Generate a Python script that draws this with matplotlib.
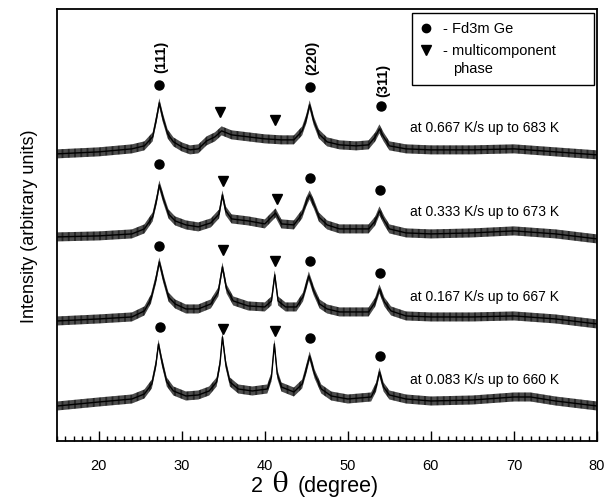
import numpy as np
import matplotlib
matplotlib.use("Agg")
import matplotlib.pyplot as plt
from matplotlib.patches import Rectangle

plt.rcParams['font.family'] = ['Liberation Sans', 'DejaVu Sans']
plt.rcParams['hatch.linewidth'] = 0.6

# traces (2theta in degree, intensity in arbitrary units)
x_683 = [15, 20, 24, 25.5, 26.5, 27.0, 27.3, 27.7, 28.3, 29.0, 30, 31, 32, 33, 34, 34.8, 36, 38, 40, 42,
         43.5, 44.5, 45.0, 45.4, 45.9, 46.5, 47.5, 49, 51, 52.5, 53.3, 53.8, 54.3, 55, 57, 60, 65, 70, 75, 80]
y_683 = [287, 289, 292, 295, 304, 324, 338, 324, 307, 299, 294, 291, 292, 300, 304, 310, 306, 304, 302, 301,
         301, 310, 322, 336, 320, 307, 299, 296, 295, 296, 304, 312, 304, 295, 292, 291, 291, 292, 289, 286]

x_673 = [15, 20, 24, 25.5, 26.5, 27.0, 27.3, 27.8, 28.4, 29.2, 30.5, 32, 33.5, 34.5, 34.9, 35.3, 36, 38, 40,
         41.3, 42, 43.5, 44.5, 45.0, 45.4, 45.9, 46.5, 47.5, 49, 52.5, 53.3, 53.8, 54.4, 55, 57, 60, 65, 70, 75, 80]
y_673 = [204, 205, 207, 212, 224, 242, 256, 242, 227, 220, 216, 214, 218, 227, 246, 230, 222, 220, 217,
         228, 217, 216, 227, 239, 246, 237, 224, 216, 212, 212, 220, 230, 220, 212, 208, 207, 208, 210, 207, 202]

x_667 = [15, 20, 24, 25.5, 26.3, 26.9, 27.3, 27.8, 28.4, 29.2, 30.5, 32, 33.5, 34.4, 34.9, 35.4, 36.2, 38, 40,
         40.8, 41.2, 41.6, 42.5, 43.8, 44.6, 45.3, 45.9, 46.6, 47.5, 49, 52.5, 53.3, 53.8, 54.4, 55.2, 57, 60,
         65, 70, 75, 80]
y_667 = [120, 122, 124, 130, 142, 162, 179, 162, 144, 137, 132, 132, 137, 149, 174, 152, 140, 135, 134,
         140, 166, 140, 134, 134, 144, 165, 150, 137, 132, 129, 129, 139, 152, 139, 130, 125, 124,
         124, 125, 122, 117]

x_660 = [15, 20, 24, 25.5, 26.4, 26.9, 27.2, 27.6, 28.2, 29, 30.5, 32, 33.3, 34.2, 34.6, 34.9, 35.3, 35.8,
         36.8, 38.5, 40.3, 40.8, 41.15, 41.5, 42, 43.5, 44.5, 45.0, 45.4, 46, 46.8, 48, 50, 52.8, 53.4, 53.8,
         54.3, 55, 57, 60, 65, 70, 72, 75, 80]
y_660 = [35, 39, 42, 47, 57, 77, 97, 80, 59, 50, 45, 46, 50, 59, 77, 104, 77, 59,
         52, 50, 52, 64, 97, 67, 54, 49, 57, 72, 85, 67, 52, 45, 42, 44, 54, 69,
         54, 46, 42, 40, 41, 44, 44, 40, 35]

traces = [(x_683, y_683), (x_673, y_673), (x_667, y_667), (x_660, y_660)]
labels = ['at 0.667 K/s up to 683 K', 'at 0.333 K/s up to 673 K',
          'at 0.167 K/s up to 667 K', 'at 0.083 K/s up to 660 K']
label_y = [314, 230, 145, 62]

# Fd3m Ge (circles) and multicomponent phase (triangles) markers
ge_x = [[27.3, 45.4, 54.0], [27.3, 45.5, 53.9], [27.3, 45.4, 53.9], [27.4, 45.5, 53.9]]
ge_y = [[356, 354, 335], [277, 263, 251], [195, 180, 168], [114, 103, 85]]
mc_x = [[34.6, 41.2], [35.0, 41.5], [35.0, 41.2], [35.0, 41.2]]
mc_y = [[329, 321], [260, 242], [191, 180], [112, 110]]

miller = ['(111)', '(220)', '(311)']
miller_x = [27.5, 45.7, 54.3]
miller_y = [385, 384, 361]

fig = plt.figure(figsize=(6.08, 5.02), dpi=100)
ax = fig.add_axes([0.094, 0.1195, 0.888, 0.861])

for xs, ys in traces:
    xs = np.array(xs)
    ys = np.array(ys)
    # noise band of the measured pattern
    ax.fill_between(xs, ys - 4.5, ys + 4.5, facecolor='0.85', edgecolor='k',
                    hatch='|' * 14, linewidth=0)
    ax.plot(xs, ys, color='k', lw=1.0)

for i in range(4):
    ax.plot(ge_x[i], ge_y[i], 'o', color='k', ms=6.5, ls='none')
    ax.plot(mc_x[i], mc_y[i], 'v', color='k', ms=7, ls='none')
    ax.text(57.5, label_y[i], labels[i], fontsize=10, va='center', ha='left')

for lab, mx, my in zip(miller, miller_x, miller_y):
    ax.text(mx, my, lab, rotation=90, fontsize=10.5, fontweight='bold', ha='center', va='center')

# legend drawn by hand so the triangle sits on the first line
ax.add_patch(Rectangle((0.657, 0.824), 0.337, 0.167, transform=ax.transAxes,
                       fill=False, ec='k', lw=1.0))
ax.plot([0.683], [0.956], 'o', color='k', ms=6, transform=ax.transAxes)
ax.plot([0.683], [0.905], 'v', color='k', ms=6.5, transform=ax.transAxes)
ax.text(0.714, 0.956, '- Fd3m Ge', fontsize=10.5, va='center', transform=ax.transAxes)
ax.text(0.714, 0.905, '- multicomponent', fontsize=10.5, va='center', transform=ax.transAxes)
ax.text(0.733, 0.863, 'phase', fontsize=10.5, va='center', transform=ax.transAxes)

ax.set_xlim(15, 80)
ax.set_ylim(0, 432)
ax.set_xticks(range(20, 81, 10))
ax.set_xticks(range(15, 81), minor=True)
ax.set_yticks([])
ax.tick_params(axis='x', which='major', direction='in', length=7.5, width=1.0, pad=12, labelsize=10.5)
ax.tick_params(axis='x', which='minor', direction='in', length=3.8, width=1.0)
for s in ax.spines.values():
    s.set_linewidth(1.3)

ax.set_ylabel('Intensity (arbitrary units)', fontsize=13, labelpad=14)

fig.text(0.413, 0.02, '2', fontsize=15.5, ha='left', va='baseline')
fig.text(0.447, 0.02, r'$\mathrm{\theta}$', fontsize=22, ha='left', va='baseline',
         math_fontfamily='stix')
fig.text(0.490, 0.02, '(degree)', fontsize=15.5, ha='left', va='baseline')

fig.savefig('out.png', dpi=100)
